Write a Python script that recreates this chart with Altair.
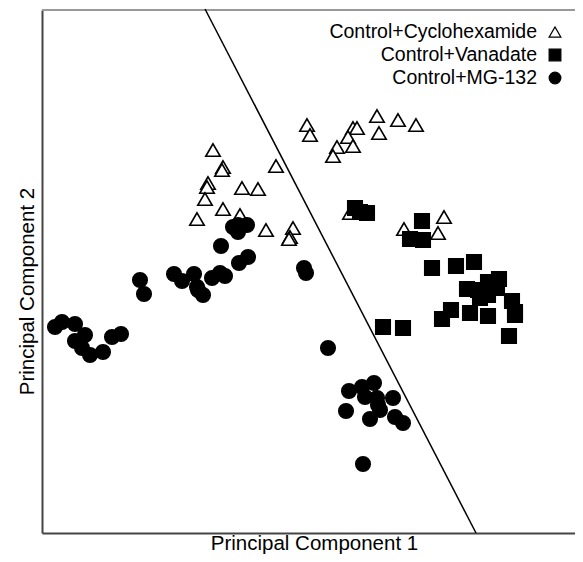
import altair as alt
import pandas as pd

groups = ["Control+Cyclohexamide", "Control+Vanadate", "Control+MG-132"]
group_shapes = ["triangle-up", "square", "circle"]
group_fills = ["white", "black", "black"]

chx_pc1 = [265, 268, 335, 356, 374, 311, 315, 306, 337, 295, 311, 291, 171, 181, 180, 234,
           166, 165, 163, 200, 216, 181, 155, 198, 224, 251, 248, 247, 308, 362, 402, 396]
chx_pc2 = [408, 398, 417, 413, 408, 405, 405, 396, 400, 386, 387, 377, 383, 366, 363, 367,
           350, 346, 334, 345, 344, 324, 314, 318, 303, 305, 296, 294, 320, 304, 316, 300]

van_pc1 = [313, 318, 325, 380, 368, 381, 390, 414, 432, 425, 436, 446, 457, 455, 446, 438,
           470, 473, 473, 409, 400, 428, 446, 467, 341, 361]
van_pc2 = [325, 321, 320, 312, 294, 293, 265, 267, 271, 244, 243, 251, 254, 245, 238, 235,
           232, 221, 218, 223, 214, 220, 217, 197, 206, 205]

mg_pc1 = [196, 205, 196, 191, 179, 197, 206, 132, 140, 152, 170, 178, 183, 156, 161, 155,
          98, 102, 262, 264, 13, 20, 33, 43, 33, 40, 48, 61, 70, 79, 286,
          307, 320, 332, 323, 335, 351, 304, 338, 328, 353, 361, 321, 336]
mg_pc2 = [308, 308, 301, 306, 287, 270, 276, 259, 252, 259, 255, 260, 257, 243, 238, 246,
          253, 239, 265, 260, 206, 211, 209, 198, 192, 185, 178, 181, 196, 199, 185,
          142, 146, 150, 136, 135, 135, 122, 123, 114, 116, 110, 69, 128]

boundary_pc1 = [163, 434]
boundary_pc2 = [524, 0]

x_domain = [0, 533]
y_domain = [0, 523]

rows = []
for g, xs, ys in [(groups[0], chx_pc1, chx_pc2), (groups[1], van_pc1, van_pc2), (groups[2], mg_pc1, mg_pc2)]:
    for a, b in zip(xs, ys):
        rows.append({"group": g, "pc1": a, "pc2": b})
df = pd.DataFrame(rows)
df["order"] = range(len(df))
line_df = pd.DataFrame({"pc1": boundary_pc1, "pc2": boundary_pc2})

xs = alt.Scale(domain=x_domain, nice=False, zero=False)
ys = alt.Scale(domain=y_domain, nice=False, zero=False)

x_axis = alt.Axis(title="Principal Component 1", labels=False, ticks=False, grid=False,
                  domainColor="#444", domainWidth=2, titleFont="Liberation Sans",
                  titleFontSize=20.5, titleFontWeight="normal", titleColor="black",
                  titleBaseline="alphabetic", titlePadding=16, titleX=272)
y_axis = alt.Axis(title="Principal Component 2", labels=False, ticks=False, grid=False,
                  domainColor="#444", domainWidth=2, titleFont="Liberation Sans",
                  titleFontSize=20.5, titleFontWeight="normal", titleColor="black",
                  titlePadding=5, titleY=281)

points = alt.Chart(df).mark_point(filled=True, stroke="black", strokeWidth=1.6, size=210, opacity=1).encode(
    x=alt.X("pc1:Q", scale=xs, axis=x_axis),
    y=alt.Y("pc2:Q", scale=ys, axis=y_axis),
    shape=alt.Shape("group:N", scale=alt.Scale(domain=groups, range=group_shapes), legend=None),
    fill=alt.Fill("group:N", scale=alt.Scale(domain=groups, range=group_fills), legend=None),
    order=alt.Order("order:Q"),
)

boundary = alt.Chart(line_df).mark_line(color="black", strokeWidth=1.5).encode(
    x=alt.X("pc1:Q", scale=xs, axis=x_axis),
    y=alt.Y("pc2:Q", scale=ys, axis=y_axis),
)

top_border = alt.Chart(pd.DataFrame({"v": [y_domain[1]]})).mark_rule(color="#999", strokeWidth=2).encode(
    y=alt.Y("v:Q", scale=ys, axis=y_axis),
    x=alt.value(0),
    x2=alt.value(533),
)

# manual legend: labels to the left of their symbols, as in the reference
legend_layers = []
legend_row_y = [22, 45, 68]
for g, shp, fc, ry in zip(groups, group_shapes, group_fills, legend_row_y):
    ldf = pd.DataFrame({"label": [g]})
    legend_layers.append(
        alt.Chart(ldf).mark_text(align="right", baseline="middle", font="Liberation Sans",
                                 fontSize=19.5, color="black").encode(
            text="label:N", x=alt.value(495), y=alt.value(ry))
    )
    legend_layers.append(
        alt.Chart(ldf).mark_point(shape=shp, filled=True, fill=fc, stroke="black",
                                  strokeWidth=1.3, size=135, opacity=1).encode(
            x=alt.value(513), y=alt.value(ry))
    )

chart = alt.layer(top_border, boundary, points, *legend_layers).properties(
    width=533, height=523,
    autosize=alt.AutoSizeParams(type="none"),
    padding={"left": 34, "top": 2, "right": 0, "bottom": 21},
).configure_view(stroke=None)

chart.save("out.html", embed_options={"renderer": "svg", "actions": False})
